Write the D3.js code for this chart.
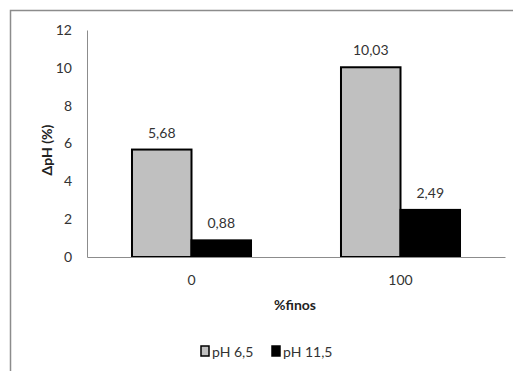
<!DOCTYPE html>
<html><head><meta charset="utf-8">
<script src="https://cdn.jsdelivr.net/npm/d3@7"></script>
<style>body{margin:0;background:#fff}svg{display:block}text{font-family:Lato,"Open Sans",sans-serif}</style>
</head><body>
<script>
const categories = ["0", "100"];
const seriesNames = ["pH 6,5", "pH 11,5"];
const ph65 = [5.68, 10.03];
const ph115 = [0.88, 2.49];
const seriesColors = ["#c0c0c0", "#000000"];
const yTicks = [0, 2, 4, 6, 8, 10, 12];

const W = 513, H = 371;
const svg = d3.select("body").append("svg").attr("width", W).attr("height", H);
svg.append("path").attr("d", "M10.5,371V10.5H513").attr("fill", "none").attr("stroke", "#8c8c8c").attr("stroke-width", 1.5);

const x0 = d3.scaleBand().domain(categories).range([87, 505]).paddingInner(0).paddingOuter(0);
const y = d3.scaleLinear().domain([0, 12]).range([257, 30]);
const x1 = d3.scaleBand().domain(seriesNames).range([0, x0.bandwidth()]).paddingOuter(0.756).paddingInner(0);

const data = categories.map((c, i) => ({cat: c, vals: [ph65[i], ph115[i]]}));
const fmt = v => v.toFixed(2).replace(".", ",");

const g = svg.append("g").selectAll("g").data(data).join("g")
  .attr("transform", d => `translate(${x0(d.cat)},0)`);
g.selectAll("rect").data(d => d.vals.map((v, j) => ({v, j}))).join("rect")
  .attr("x", d => x1(seriesNames[d.j]))
  .attr("y", d => y(d.v))
  .attr("width", x1.bandwidth())
  .attr("height", d => y(0) - y(d.v))
  .attr("fill", d => seriesColors[d.j])
  .attr("stroke", "#000").attr("stroke-width", 2);
g.selectAll("text").data(d => d.vals.map((v, j) => ({v, j}))).join("text")
  .attr("x", d => x1(seriesNames[d.j]) + x1.bandwidth() / 2)
  .attr("y", d => y(d.v) - 12)
  .attr("text-anchor", "middle").attr("font-size", 14).attr("fill", "#333")
  .text(d => fmt(d.v));

const yAxis = svg.append("g").attr("transform", "translate(87,0)")
  .call(d3.axisLeft(y).tickValues(yTicks).tickSize(0).tickPadding(15));
yAxis.select(".domain").attr("stroke", "#8c8c8c");
yAxis.selectAll("text").attr("font-size", 14).attr("fill", "#333").attr("font-family", "Lato");

const xAxis = svg.append("g").attr("transform", `translate(0,${y(0)})`)
  .call(d3.axisBottom(x0).tickSize(0).tickPadding(18));
xAxis.select(".domain").attr("stroke", "#8c8c8c");
xAxis.selectAll("text").attr("font-size", 14).attr("fill", "#333").attr("font-family", "Lato");

svg.append("text").attr("x", 295).attr("y", 310).attr("text-anchor", "middle")
  .attr("font-size", 14).attr("font-weight", "bold").attr("fill", "#222").text("%finos");
svg.append("text").attr("transform", "translate(52,150) rotate(-90)").attr("text-anchor", "middle")
  .attr("font-size", 14).attr("font-weight", "bold").attr("fill", "#222").text("ΔpH (%)");

const leg = svg.append("g").selectAll("g").data(seriesNames).join("g")
  .attr("transform", (d, i) => `translate(${[201, 272][i]},346)`);
leg.append("rect").attr("width", 8).attr("height", 10).attr("fill", (d, i) => seriesColors[i])
  .attr("stroke", "#000").attr("stroke-width", 1.5);
leg.append("text").attr("x", 11).attr("y", 10.5).attr("font-size", 14).attr("fill", "#333").text(d => d);
</script>
</body></html>
